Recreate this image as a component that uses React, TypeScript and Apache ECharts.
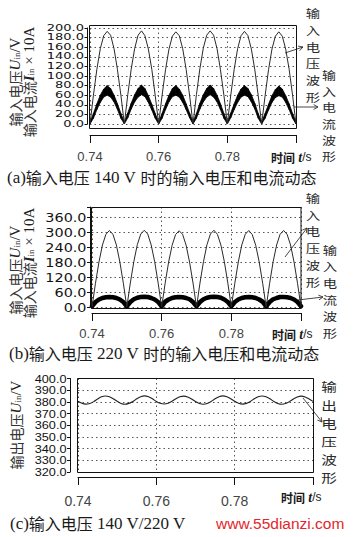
import React, { useEffect, useRef } from 'react';
import * as echarts from 'echarts';

// sampling instants (s), 1 ms apart, 0.740 ... 0.800
const TIMES: number[] = Array.from({ length: 61 }, (_, i) => +(0.74 + i * 0.001).toFixed(3));

const X_MIN = 0.74;
const X_MAX = 0.8;
const X_STEP = 0.02;

// (a) input 140 V
const VA = [
  0, 60, 114, 157, 184, 193, 185, 157, 113, 60,
  0, 61, 114, 157, 185, 194, 184, 156, 114, 59,
  0, 60, 113, 156, 183, 192, 184, 157, 114, 60,
  0, 61, 115, 158, 185, 194, 185, 157, 113, 60,
  0, 60, 114, 157, 184, 193, 184, 156, 113, 59,
  0, 59, 113, 156, 183, 192, 183, 156, 114, 60,
  0,
];
const IA_LOW = [
  0, 12, 30, 45, 56, 60, 56, 46, 30, 12,
  0, 13, 31, 46, 56, 61, 57, 45, 29, 12,
  0, 12, 30, 46, 57, 60, 56, 45, 30, 13,
  0, 12, 31, 46, 56, 61, 56, 46, 30, 12,
  0, 13, 30, 45, 56, 60, 57, 46, 31, 12,
  0, 12, 29, 45, 55, 59, 56, 45, 30, 12,
  0,
];
const IA_HIGH = [
  4, 22, 42, 60, 73, 80, 74, 60, 42, 22,
  4, 23, 43, 61, 74, 81, 74, 59, 41, 22,
  4, 22, 42, 60, 74, 80, 73, 60, 42, 23,
  4, 22, 43, 61, 74, 81, 74, 60, 42, 22,
  4, 23, 42, 60, 73, 80, 74, 61, 43, 22,
  4, 22, 41, 59, 72, 79, 73, 59, 42, 22,
  4,
];

// (b) input 220 V
const VB = [
  0, 95, 180, 248, 291, 306, 291, 248, 180, 95,
  0, 96, 181, 249, 292, 307, 292, 248, 181, 95,
  0, 95, 180, 247, 290, 305, 291, 248, 180, 96,
  0, 96, 181, 249, 292, 307, 291, 248, 181, 95,
  0, 95, 180, 248, 291, 306, 290, 247, 180, 95,
  0, 95, 181, 248, 291, 306, 291, 248, 180, 95,
  0,
];
const IB = [
  3, 20, 30, 36, 39, 40, 39, 36, 30, 20,
  3, 20, 31, 37, 40, 41, 40, 36, 30, 20,
  3, 21, 30, 36, 39, 40, 39, 36, 31, 20,
  3, 20, 31, 37, 40, 41, 40, 37, 30, 20,
  3, 20, 30, 36, 39, 40, 39, 36, 30, 21,
  3, 20, 31, 36, 40, 40, 39, 36, 30, 20,
  3,
];

// (c) output voltage
const VC = [
  380.6, 378.8, 378.1, 378.6, 380.2, 382.5, 384.3, 385.0, 384.4, 382.7,
  380.5, 378.7, 378.0, 378.7, 380.3, 382.6, 384.4, 385.1, 384.3, 382.6,
  380.4, 378.8, 378.2, 378.8, 380.5, 382.7, 384.3, 384.9, 384.2, 382.5,
  380.3, 378.6, 378.0, 378.6, 380.3, 382.6, 384.4, 385.1, 384.4, 382.7,
  380.5, 378.8, 378.1, 378.7, 380.4, 382.6, 384.3, 385.0, 384.3, 382.6,
  380.4, 378.7, 378.0, 378.6, 380.2, 382.5, 384.2, 384.9, 384.2, 382.5,
  380.4,
];

// y tick labels
const YA_TICKS = ['0.0', '20.0', '40.0', '60.0', '80.0', '100.0', '120.0', '140.0', '160.0', '180.0', '200.0'];
const YB_TICKS = ['0.0', '60.0', '120.0', '180.0', '240.0', '300.0', '360.0'];
const YC_TICKS = ['320.0', '330.0', '340.0', '350.0', '360.0', '370.0', '380.0', '390.0', '400.0'];
// x tick labels
const X_TICKS = ['0.74', '0.76', '0.78'];

const Y_A = { min: 0, max: 200, interval: 20 };
const Y_B = { min: 0, max: 400, interval: 60 };
const Y_C = { min: 320, max: 400, interval: 10 };

const CJK = '"Noto Sans CJK SC", sans-serif';
const SERIF = '"Liberation Serif", "DejaVu Serif", serif';
const SANS = '"Liberation Sans", Arial, sans-serif';
const DEJA = '"DejaVu Sans", sans-serif';
const INK = '#1a1a1a';

const pair = (arr: number[]) => arr.map((v, i) => [TIMES[i], v]);

function arrow(x1: number, y1: number, x2: number, y2: number) {
  const a = Math.atan2(y2 - y1, x2 - x1);
  const L = 5;
  const w = 0.5;
  return {
    type: 'group',
    silent: true,
    children: [
      { type: 'line', shape: { x1, y1, x2, y2 }, style: { stroke: '#333', lineWidth: 0.9 } },
      {
        type: 'polyline',
        shape: {
          points: [
            [x2 - L * Math.cos(a - w), y2 - L * Math.sin(a - w)],
            [x2, y2],
            [x2 - L * Math.cos(a + w), y2 - L * Math.sin(a + w)],
          ],
        },
        style: { stroke: '#333', fill: 'none', lineWidth: 0.9 },
      },
    ],
  };
}

const titleRich = {
  c: { fontFamily: CJK, fontSize: 14, fill: '#333', lineHeight: 12 },
  u: { fontFamily: SERIF, fontSize: 15, fontStyle: 'italic', fill: '#222', lineHeight: 12 },
  ub: { fontFamily: SERIF, fontSize: 15, fontStyle: 'italic', fontWeight: 'bold', fill: '#222', lineHeight: 12 },
  s: { fontFamily: SERIF, fontSize: 9, fill: '#222', verticalAlign: 'bottom', lineHeight: 9 },
  n: { fontFamily: SERIF, fontSize: 15, fill: '#222', lineHeight: 12 },
};

function yTitle(x: number, y: number, text: string) {
  return {
    type: 'text',
    x,
    y,
    rotation: Math.PI / 2,
    silent: true,
    style: { text, rich: titleRich, align: 'center', verticalAlign: 'middle' },
  };
}

const capRich = {
  p: { fontFamily: SERIF, fontSize: 17, fill: INK },
  c: { fontFamily: CJK, fontSize: 16, fill: INK },
  n: { fontFamily: SERIF, fontSize: 17, fill: INK },
};

function caption(x: number, y: number, text: string) {
  return {
    type: 'text',
    x,
    y,
    silent: true,
    style: { text, rich: capRich, align: 'left', verticalAlign: 'middle' },
  };
}

const timeRich = {
  c: { fontFamily: CJK, fontSize: 12, fontWeight: 'bold', fill: INK },
  t: { fontFamily: SERIF, fontSize: 14, fontStyle: 'italic', fontWeight: 'bold', fill: INK },
  s: { fontFamily: SANS, fontSize: 12, fill: INK },
};

function timeLabel(x: number, y: number) {
  return {
    type: 'text',
    x,
    y,
    silent: true,
    style: { text: '{c|时间} {t|t}{s|/s}', rich: timeRich, align: 'left', verticalAlign: 'middle' },
  };
}

// vertical column of characters; font sized so that each line's box fits its pitch
function column(x: number, y: number, text: string, lh: number) {
  const fs = Math.floor((lh / 1.45) * 10) / 10;
  return {
    type: 'text',
    x,
    y,
    scaleX: 1.25,
    silent: true,
    style: {
      text: text.split('').join('\n'),
      fontFamily: CJK,
      fontSize: fs,
      lineHeight: lh,
      fill: '#2a2a2a',
      align: 'center',
      verticalAlign: 'middle',
    },
  };
}

function box(x: number, y: number, w: number, h: number) {
  return {
    type: 'rect',
    silent: true,
    z: 10,
    shape: { x, y, width: w, height: h },
    style: { fill: 'none', stroke: '#111', lineWidth: 1 },
  };
}

const dotted = { show: true, lineStyle: { color: '#555', type: [1.5, 3], width: 1 } };

export default function App() {
  const ref = useRef<HTMLDivElement>(null);
  useEffect(() => {
    if (!ref.current) return;
    const chart = echarts.init(ref.current, undefined, { renderer: 'svg' });

    const grids = [
      { left: 90, top: 28, width: 206, height: 96 },
      { left: 92, top: 207, width: 209, height: 100 },
      { left: 78, top: 378.5, width: 235, height: 93.5 },
    ];
    const xOffsets = [11, 6, 5];
    const xMargins = [15, 14, 17];
    const yOffsets = [2.5, 2, 8];
    const yCfg = [Y_A, Y_B, Y_C];

    const lineBase = { type: 'line', showSymbol: false, symbol: 'none', silent: true };

    chart.setOption({
      animation: false,
      backgroundColor: '#ffffff',
      grid: grids.map((g) => ({ ...g, show: false, containLabel: false })),
      xAxis: grids.map((_, i) => ({
        type: 'value',
        gridIndex: i,
        min: X_MIN,
        max: X_MAX,
        interval: X_STEP,
        offset: xOffsets[i],
        axisLine: { show: true, onZero: false, lineStyle: { color: '#111', width: 1 } },
        axisTick: { show: true, inside: false, length: 8, lineStyle: { color: '#111' } },
        axisLabel: {
          margin: xMargins[i],
          color: '#444',
          fontFamily: SANS,
          fontSize: i === 2 ? 14 : 13,
          showMinLabel: true,
          formatter: (v: number) => X_TICKS.find((s) => Math.abs(parseFloat(s) - v) < 1e-6) || '',
        },
        splitLine: dotted,
      })),
      yAxis: grids.map((_, i) => ({
        type: 'value',
        gridIndex: i,
        min: yCfg[i].min,
        max: yCfg[i].max,
        interval: yCfg[i].interval,
        offset: yOffsets[i],
        axisLine: { show: true, onZero: false, lineStyle: { color: '#111', width: 1 } },
        axisTick: { show: true, inside: false, length: 3, lineStyle: { color: '#111' } },
        axisLabel: { show: false },
        splitLine: dotted,
      })),
      series: [
        { ...lineBase, xAxisIndex: 0, yAxisIndex: 0, data: pair(VA), lineStyle: { color: '#2a2a2a', width: 1 }, z: 3 },
        {
          type: 'custom',
          xAxisIndex: 0,
          yAxisIndex: 0,
          silent: true,
          z: 2,
          data: TIMES.slice(0, -1).map((t, i) => [t, IA_LOW[i], IA_HIGH[i]]),
          encode: { x: 0, y: [1, 2] },
          renderItem: (params: any, api: any) => {
            const i = params.dataIndex;
            const pts = [
              api.coord([TIMES[i], IA_LOW[i]]),
              api.coord([TIMES[i + 1], IA_LOW[i + 1]]),
              api.coord([TIMES[i + 1], IA_HIGH[i + 1]]),
              api.coord([TIMES[i], IA_HIGH[i]]),
            ];
            return {
              type: 'polygon',
              shape: { points: pts },
              style: { fill: '#000', stroke: '#000', lineWidth: 0.8 },
            };
          },
        },
        { ...lineBase, xAxisIndex: 1, yAxisIndex: 1, data: pair(VB), lineStyle: { color: '#2a2a2a', width: 1 }, z: 3 },
        {
          ...lineBase,
          xAxisIndex: 1,
          yAxisIndex: 1,
          data: pair(IB),
          clip: false,
          lineStyle: { color: '#000', width: 4.5, join: 'round', cap: 'round' },
          z: 2,
        },
        { ...lineBase, xAxisIndex: 2, yAxisIndex: 2, data: pair(VC), smooth: 0.3, lineStyle: { color: '#222', width: 1.1 }, z: 3 },
      ],
    });

    // y tick labels, placed through the axes' own scales
    const tickSets = [YA_TICKS, YB_TICKS, YC_TICKS];
    const tickFonts = [
      { fontFamily: DEJA, fontSize: 10, sx: 1.3, sy: 0.82 },
      { fontFamily: DEJA, fontSize: 12.5, sx: 1.15, sy: 1 },
      { fontFamily: SANS, fontSize: 10.4, sx: 1.22, sy: 1 },
    ];
    const tickLabels: any[] = [];
    tickSets.forEach((ticks, gi) => {
      ticks.forEach((label) => {
        const p = chart.convertToPixel({ gridIndex: gi }, [X_MIN, parseFloat(label)]) as number[];
        const f = tickFonts[gi];
        tickLabels.push({
          type: 'text',
          x: p[0] - yOffsets[gi] - 3.5,
          y: p[1],
          scaleX: f.sx,
          scaleY: f.sy,
          silent: true,
          style: {
            text: label,
            fontFamily: f.fontFamily,
            fontSize: f.fontSize,
            fill: '#111',
            align: 'right',
            verticalAlign: 'middle',
          },
        });
      });
    });

    chart.setOption({
      graphic: [
        box(89.5, 25.5, 207, 103),
        box(91.5, 207.5, 209.5, 101),
        box(77.5, 378.5, 236, 94),

        yTitle(15, 82, '{c|输入电压}{u|U}{s|in}{n|/V}'),
        yTitle(29, 82, '{c|输入电流}{ub|I}{s|in}{n| × 10A}'),
        yTitle(15, 270, '{c|输入电压}{u|U}{s|in}{n|/V}'),
        yTitle(29, 263, '{c|输入电流}{ub|I}{s|in}{n| × 10A}'),
        yTitle(16, 425, '{c|输出电压}{u|U}{s|in}{n|/V}'),

        timeLabel(271, 157),
        timeLabel(272, 334),
        timeLabel(281, 497),

        column(313, 55, '输入电压波形', 16.7),
        column(329, 115.5, '输入电流波形', 16.3),
        column(313, 240, '输入电压波形', 16.8),
        column(330, 291.5, '输入电流波形', 16.7),
        column(329, 432.5, '输出电压波形', 18.2),

        arrow(285, 53, 303, 47),
        arrow(294, 107, 318, 107),
        arrow(285, 257, 307, 228),
        arrow(298, 300, 323, 297),
        arrow(303, 398, 322, 422),

        caption(7, 177, '{p|(a)}{c|输入电压}{n| 140 V }{c|时的输入电压和电流动态}'),
        caption(9, 353, '{p|(b)}{c|输入电压}{n| 220 V }{c|时的输入电压和电流动态}'),
        caption(10, 523, '{p|(c)}{c|输入电压}{n| 140 V/220 V}'),

        {
          type: 'text',
          x: 216,
          y: 523,
          silent: true,
          style: {
            text: 'www.55dianzi.com',
            fontFamily: SANS,
            fontSize: 15.5,
            fill: '#e3262b',
            align: 'left',
            verticalAlign: 'middle',
          },
        },
        ...tickLabels,
      ],
    });
    return () => chart.dispose();
  }, []);

  return (
    <div
      ref={ref}
      style={{ position: 'fixed', left: 0, top: 0, width: 353, height: 537, background: '#fff' }}
    />
  );
}
